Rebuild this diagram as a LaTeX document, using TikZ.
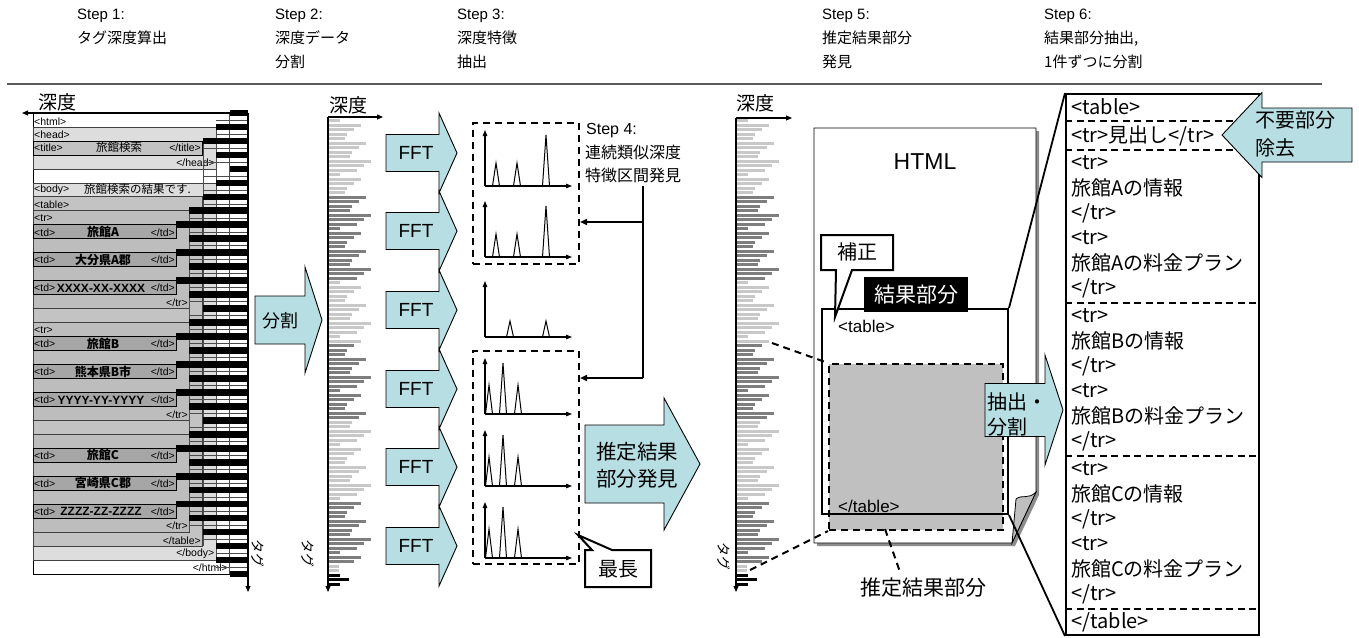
\documentclass[tikz,border=0pt]{standalone}
\usepackage{fontspec}
\setmainfont{Noto Sans CJK JP}
\newfontfamily\lat{Liberation Sans}
\usetikzlibrary{arrows.meta}

\definecolor{arrowfill}{HTML}{B7DEE2}
\definecolor{tagB}{HTML}{DDDDDD}
\definecolor{tagC}{HTML}{C3C3C3}
\definecolor{tagD}{HTML}{BDBDBD}
\definecolor{tagE}{HTML}{A6A6A6}
\definecolor{barlight}{HTML}{C8C8C8}
\definecolor{bardark}{HTML}{7E7E7E}
\definecolor{estgray}{HTML}{C0C0C0}
\definecolor{rulegray}{HTML}{5A5A5A}

% row grid of the tag listing
\newcommand{\rowy}[1]{113+13.97*(#1)}
\newcommand{\fs}[1]{\fontsize{#1}{#1}\selectfont}

% horizontal depth profile: one bar per tag, grey bands by region
\newcommand{\depthbars}[1]{%
  \foreach \i in {0,...,103}{%
    \pgfmathtruncatemacro{\seg}{(\i>16)+(\i>35)+(\i>49)+(\i>66)+(\i>84)+(\i>98)+(\i>100)}%
    \pgfmathsetmacro{\len}{12+7*mod(3*\i,4)+5*mod(floor(\i/4),3)}%
    \ifodd\seg\relax\def\bc{bardark}\else\def\bc{barlight}\fi
    \ifnum\seg=6 \def\len{11}\fi
    \ifnum\seg=7 \def\bc{black}\pgfmathsetmacro{\len}{\i==102 ? 21 : 12}\fi
    \fill[\bc] (#1,{119+4.5*\i}) rectangle ++(\len,3.2);
  }}

% block arrow pointing right: left x, head base x, tip x, centre y, body half, head half
\newcommand{\rblock}[6]{%
  \draw[blk] (#1,{#4-#5}) -- (#2,{#4-#5}) -- (#2,{#4-#6}) -- (#3,#4)
    -- (#2,{#4+#6}) -- (#2,{#4+#5}) -- (#1,{#4+#5}) -- cycle;}

% spectrum peak: x, height, baseline
\newcommand{\peak}[3]{\draw[pk] ({#1-3.5},#3) -- (#1,{#3-#2}) -- ({#1+3.5},#3);}

\tikzset{
  hd/.style={anchor=base west, inner sep=0pt, font=\fs{15}},
  tagbox/.style={draw=black!75, line width=0.7pt},
  tagtxt/.style={inner sep=0pt, font=\lat\fs{10.5}},
  tdtxt/.style={inner sep=0pt, font=\bfseries\fs{12}},
  gridln/.style={draw=black!70, line width=0.5pt},
  barax/.style={line width=1.1pt, -{Triangle[length=6pt,width=5pt]}},
  spax/.style={line width=1.1pt, -{Triangle[length=6pt,width=4.5pt]}},
  pk/.style={line width=1pt, line join=miter},
  dbox/.style={draw, line width=2pt, dash pattern=on 7pt off 5pt, inner sep=0pt, anchor=north west},
  conn/.style={line width=2pt},
  blk/.style={draw=black, line width=0.9pt, fill=arrowfill},
  dline/.style={line width=2pt, dash pattern=on 7pt off 5pt},
  s6t/.style={anchor=west, inner sep=0pt, font=\fs{20}},
  s6dash/.style={line width=1.8pt, dash pattern=on 7pt off 4.5pt},
  callout/.style={draw, line width=2pt, fill=white, line join=miter},
  lbl/.style={inner sep=0pt}
}

\begin{document}
\begin{tikzpicture}[x=1pt,y=-1pt]
\useasboundingbox[fill=white] (0,0) rectangle (1359,637);

% ---------- header ----------
\node[hd] (s1a) at (77,19) {\lat Step 1:};
\node[hd] (s1b) at (77,43) {タグ深度算出};
\node[hd] (s2a) at (275,19) {\lat Step 2:};
\node[hd] (s2b) at (275,43) {深度データ};
\node[hd] (s2c) at (275,67) {分割};
\node[hd] (s3a) at (457,19) {\lat Step 3:};
\node[hd] (s3b) at (457,43) {深度特徴};
\node[hd] (s3c) at (457,67) {抽出};
\node[hd] (s5a) at (822,19) {\lat Step 5:};
\node[hd] (s5b) at (822,43) {推定結果部分};
\node[hd] (s5c) at (822,67) {発見};
\node[hd] (s6a) at (1044,19) {\lat Step 6:};
\node[hd] (s6b) at (1044,43) {結果部分抽出,};
\node[hd] (s6c) at (1044,67) {1件ずつに分割};
\draw[rulegray, line width=1.4pt] (7,84) -- (1322,84);

% ---------- step 1: nested tag boxes ----------
\draw[tagbox, draw=black, fill=white] (33,{\rowy{0}}) rectangle (248,{\rowy{33}});
\draw[tagbox, fill=tagB] (33,{\rowy{1}}) rectangle (216.2,{\rowy{4}});
\draw[tagbox, draw=black, fill=tagC] (33,{\rowy{2}}) rectangle (202.8,{\rowy{3}});
\draw[tagbox, fill=tagB] (33,{\rowy{5}}) rectangle (216.2,{\rowy{32}});
\draw[tagbox, fill=tagC] (33,{\rowy{6}}) rectangle (202.8,{\rowy{31}});

\node[tagtxt, anchor=west] (thtml) at (34,{\rowy{0}+8.5}) {<html>};
\node[tagtxt, anchor=west] (thead) at (34,{\rowy{1}+7.5}) {<head>};
\node[tagtxt, anchor=west] (ttitle) at (34,{\rowy{2}+7}) {<title>};
\node[lbl, font=\fs{11.5}] (tsearch) at (119,{\rowy{2}+6.5}) {旅館検索};
\node[tagtxt, anchor=east] (ttitlee) at (201,{\rowy{2}+7}) {</title>};
\node[tagtxt, anchor=east] (theade) at (215,{\rowy{3}+8}) {</head>};
\node[tagtxt, anchor=west] (tbody) at (34,{\rowy{5}+7}) {<body>};
\node[lbl, font=\fs{11.5}, anchor=west] (tres) at (84,{\rowy{5}+6}) {旅館検索の結果です.};
\node[tagtxt, anchor=west] (ttable) at (34,{\rowy{6}+7.5}) {<table>};

\foreach \q/\k/\ua/\ub/\uc in {1/7/旅館A/大分県A郡/XXXX-XX-XXXX,
                               2/15/旅館B/熊本県B市/YYYY-YY-YYYY,
                               3/23/旅館C/宮崎県C郡/ZZZZ-ZZ-ZZZZ}{
  \draw[tagbox, fill=tagD] (33,{\rowy{\k}}) rectangle (189.4,{\rowy{\k+7}});
  \draw[tagbox, draw=black, fill=tagE] (33,{\rowy{\k+1}}) rectangle (176,{\rowy{\k+2}});
  \draw[tagbox, draw=black, fill=tagE] (33,{\rowy{\k+3}}) rectangle (176,{\rowy{\k+4}});
  \draw[tagbox, draw=black, fill=tagE] (33,{\rowy{\k+5}}) rectangle (176,{\rowy{\k+6}});
  \foreach \j in {1,3,5}{
    \node[tagtxt, anchor=west] (td\q\j) at (34,{\rowy{\k+\j}+7.5}) {<td>};
    \node[tagtxt, anchor=east] (tde\q\j) at (175,{\rowy{\k+\j}+7.5}) {</td>};
  }
  \node[tdtxt] (tv\q1) at (103,{\rowy{\k+1}+7}) {\ua};
  \node[tdtxt] (tv\q3) at (103,{\rowy{\k+3}+7}) {\ub};
  \node[tdtxt, font=\lat\bfseries\fs{12}] (tv\q5) at (101,{\rowy{\k+5}+7.5}) {\uc};
  \node[tagtxt, anchor=east] (tre\q) at (188,{\rowy{\k+6}+8}) {</tr>};
}
\node[tagtxt, anchor=west] (tr1) at (34,{\rowy{7}+7.5}) {<tr>};
\node[tagtxt, anchor=west] (tr2) at (34,{\rowy{15}+7.5}) {<tr>};
\node[tagtxt, anchor=east] (ttablee) at (201,{\rowy{30}+8.5}) {</table>};
\node[tagtxt, anchor=east] (tbodye) at (214.5,{\rowy{31}+8}) {</body>};
\node[tagtxt, anchor=east] (thtmle) at (228,{\rowy{32}+8}) {</html>};

% depth grid beside the boxes
\draw[gridln] (229.6,{\rowy{0}}) -- (229.6,{\rowy{33}});
\draw[gridln] (216.2,{\rowy{1}}) -- (216.2,{\rowy{32}});
\draw[gridln] (202.8,{\rowy{2}}) -- (202.8,{\rowy{31}});
\draw[gridln] (189.4,{\rowy{7}}) -- (189.4,{\rowy{30}});
\foreach \k in {0,...,32}{
  \pgfmathsetmacro{\gx}{ifthenelse(\k>6 && \k<30,189.4,ifthenelse(\k>1 && \k<31,202.8,216.2))}
  \draw[gridln] (\gx,{\rowy{\k}+7}) -- (248,{\rowy{\k}+7});
}
% depth of each tag
\foreach \k/\d in {0/1,1/2,2/3,3/2,4/1,5/2,6/3,7/4,8/5,9/4,10/5,11/4,12/5,13/4,14/3,
                   15/4,16/5,17/4,18/5,19/4,20/5,21/4,22/3,23/4,24/5,25/4,26/5,27/4,
                   28/5,29/4,30/3,31/2,32/2,33/1}{
  \fill[black] ({243-13.4*\d},{\rowy{\k}-3.3}) rectangle (248,{\rowy{\k}+3.3});
}
\coordinate (o1) at (248,113);
\coordinate (x1) at (22,113);
\coordinate (y1) at (248,592);
\draw[barax] (o1) -- (x1);
\draw[barax] (o1) -- (y1);
\node[lbl, font=\fs{19}] (d1) at (57,102) {深度};
\node[lbl, font=\fs{14}, rotate=-90] (g1) at (258,553) {タグ};

% ---------- split arrow ----------
\rblock{255}{305}{322}{320}{24}{53}
\node[lbl, font=\fs{18}] (bunkatsu) at (280,321) {分割};

% ---------- step 2: depth profile ----------
\depthbars{328}
\coordinate (o2) at (328,117);
\coordinate (x2) at (383,117);
\coordinate (y2) at (328,592);
\draw[barax] (o2) -- (x2);
\draw[barax] (o2) -- (y2);
\node[lbl, font=\fs{19}] (d2) at (348,105) {深度};
\node[lbl, font=\fs{14}, rotate=-90] (g2) at (308,553) {タグ};

% ---------- FFT arrows ----------
\foreach \yc/\nm in {153/f1,231/f2,310/f3,389/f4,467/f5,546/f6}{
  \rblock{386}{439}{457}{\yc}{18.5}{40}
  \node[lbl, font=\lat\fs{19}] (\nm) at (416,\yc) {FFT};
}

% ---------- step 3: spectra ----------
\foreach \bl in {186,257}{
  \coordinate (sp) at (485,\bl);
  \draw[spax] (sp) -- ++(0,-56);
  \draw[spax] (sp) -- ++(87,0);
  \peak{496}{23}{\bl}\peak{517}{23}{\bl}\peak{546}{51}{\bl}
}
\coordinate (sp3) at (485,337);
\draw[spax] (sp3) -- ++(0,-56);
\draw[spax] (sp3) -- ++(87,0);
\peak{510}{16}{337}\peak{546}{16}{337}
\foreach \bl in {414,486,558}{
  \coordinate (sp) at (485,\bl);
  \draw[spax] (sp) -- ++(0,-56);
  \draw[spax] (sp) -- ++(87,0);
  \peak{489}{29}{\bl}\peak{503}{51}{\bl}\peak{518}{29}{\bl}
}
\node[dbox, minimum width=106pt, minimum height=141pt] (boxA) at (472,122) {};
\node[dbox, minimum width=106pt, minimum height=213pt] (boxB) at (472,350) {};

% ---------- step 4 ----------
\node[lbl, anchor=west, font=\lat\fs{16}] (s4a) at (586,131) {Step 4:};
\node[lbl, anchor=west, font=\fs{16}] (s4b) at (585,152) {連続類似深度};
\node[lbl, anchor=west, font=\fs{16}] (s4c) at (585,175) {特徴区間発見};
\coordinate (s4) at (643,186);
\coordinate (jA) at (643,222);
\coordinate (jB) at (643,378);
\draw[conn] (s4) -- (jB);
\draw[conn, -{Triangle[length=7pt,width=6pt]}] (jA) -- (jA -| boxA.east);
\draw[conn, -{Triangle[length=7pt,width=6pt]}] (jB) -- (jB -| boxB.east);

% longest run
\draw[callout] (585,550) -- (592,550) -- (578,535) -- (612,550) -- (651,550)
  -- (651,587) -- (585,587) -- cycle;
\node[lbl, font=\fs{20}] (saicho) at (618,569) {最長};

% ---------- estimate arrow ----------
\rblock{585}{664}{700}{464}{39}{66}
\node[lbl, font=\fs{20.5}] (est1) at (637,452) {推定結果};
\node[lbl, font=\fs{20.5}] (est2) at (637,479) {部分発見};

% ---------- step 5 ----------
\depthbars{736}
\coordinate (o5) at (736,118);
\coordinate (x5) at (792,118);
\coordinate (y5) at (736,592);
\draw[barax] (o5) -- (x5);
\draw[barax] (o5) -- (y5);
\node[lbl, font=\fs{19}] (d5) at (755,103) {深度};
\node[lbl, font=\fs{14}, rotate=-90] (g5) at (724,556) {タグ};

% HTML page with turned-up corner
\fill[black!45] (817,131) -- (1039,131) -- (1039,495) -- (1015,546) -- (817,546) -- cycle;
\draw[line width=0.8pt, fill=white] (814,128) -- (1036,128) -- (1036,492) -- (1012,543)
  -- (814,543) -- cycle;
\draw[line width=0.8pt, fill=black!25] (1012,543) -- (1016,499)
  .. controls (1022,494) and (1028,500) .. (1036,492) -- cycle;
\node[lbl, font=\lat\fs{23}] (html) at (925,162) {HTML};

\node[dbox, fill=estgray, minimum width=174pt, minimum height=166pt] (est) at (828,363) {};
\node[draw, line width=2pt, inner sep=0pt, anchor=north west,
      minimum width=186pt, minimum height=205pt] (kekka) at (821,308) {};
\node[lbl, anchor=west, font=\lat\fs{17}] (tbl) at (838,326) {<table>};
\node[lbl, anchor=west, font=\lat\fs{17}] (tble) at (838,506) {</table>};
\node[fill=black, text=white, font=\fs{21}, inner sep=0pt,
      minimum width=104pt, minimum height=35pt] (klabel) at (916,294.5) {結果部分};

\draw[callout] (821,235) -- (893,235) -- (893,270) -- (852,270) -- (835,317)
  -- (836,270) -- (821,270) -- cycle;
\node[lbl, font=\fs{20}] (hosei) at (857,252) {補正};

\coordinate (cA) at (772,343);
\coordinate (cB) at (750,570);
\draw[dline] (cA) -- (est.north west);
\draw[dline] (cB) -- (est.south west);
\coordinate (estp) at (885,529);
\node[lbl, font=\fs{21}] (estlbl) at (923,588) {推定結果部分};
\draw[dline] (estp) -- (900,572);

% ---------- step 6 ----------
\node[draw, line width=2pt, fill=white, inner sep=0pt, anchor=north west,
      minimum width=193pt, minimum height=541pt] (s6) at (1065,93) {};
\draw[line width=1.8pt] (kekka.north east) -- (s6.north west);
\draw[line width=1.8pt] (kekka.south east) -- (s6.south west);

\node[s6t] (r0) at (1071,107) {<table>};
\draw[s6dash] (1065,121) -- (1258,121);
\node[s6t] (rh) at (1071,136) {<tr>見出し</tr>};
\draw[s6dash] (1065,150) -- (1258,150);
\foreach \b/\n in {0/A,1/B,2/C}{
  \pgfmathsetmacro{\yb}{150+153*\b}
  \node[s6t] (r\n1) at (1071,{\yb+13}) {<tr>};
  \node[s6t] (r\n2) at (1071,{\yb+38}) {旅館{\n}の情報};
  \node[s6t] (r\n3) at (1071,{\yb+63}) {</tr>};
  \node[s6t] (r\n4) at (1071,{\yb+88}) {<tr>};
  \node[s6t] (r\n5) at (1071,{\yb+113}) {旅館{\n}の料金プラン};
  \node[s6t] (r\n6) at (1071,{\yb+138}) {</tr>};
  \draw[s6dash] (1065,{\yb+153}) -- (1258,{\yb+153});
}
\node[s6t] (rend) at (1071,622) {</table>};

% extract / split arrow
\rblock{985}{1045}{1063}{410}{26.5}{55}
\node[lbl, anchor=west, font=\fs{20}] (ext1) at (987,402) {抽出・};
\node[lbl, anchor=west, font=\fs{20}] (ext2) at (987,427) {分割};

% remove-header arrow
\draw[blk] (1222,135) -- (1262,92.5) -- (1262,108) -- (1352,108) -- (1352,162)
  -- (1262,162) -- (1262,177.5) -- cycle;
\node[lbl, anchor=west, font=\fs{20}] (rm1) at (1255,120) {不要部分};
\node[lbl, anchor=west, font=\fs{20}] (rm2) at (1255,148) {除去};
\end{tikzpicture}
\end{document}
